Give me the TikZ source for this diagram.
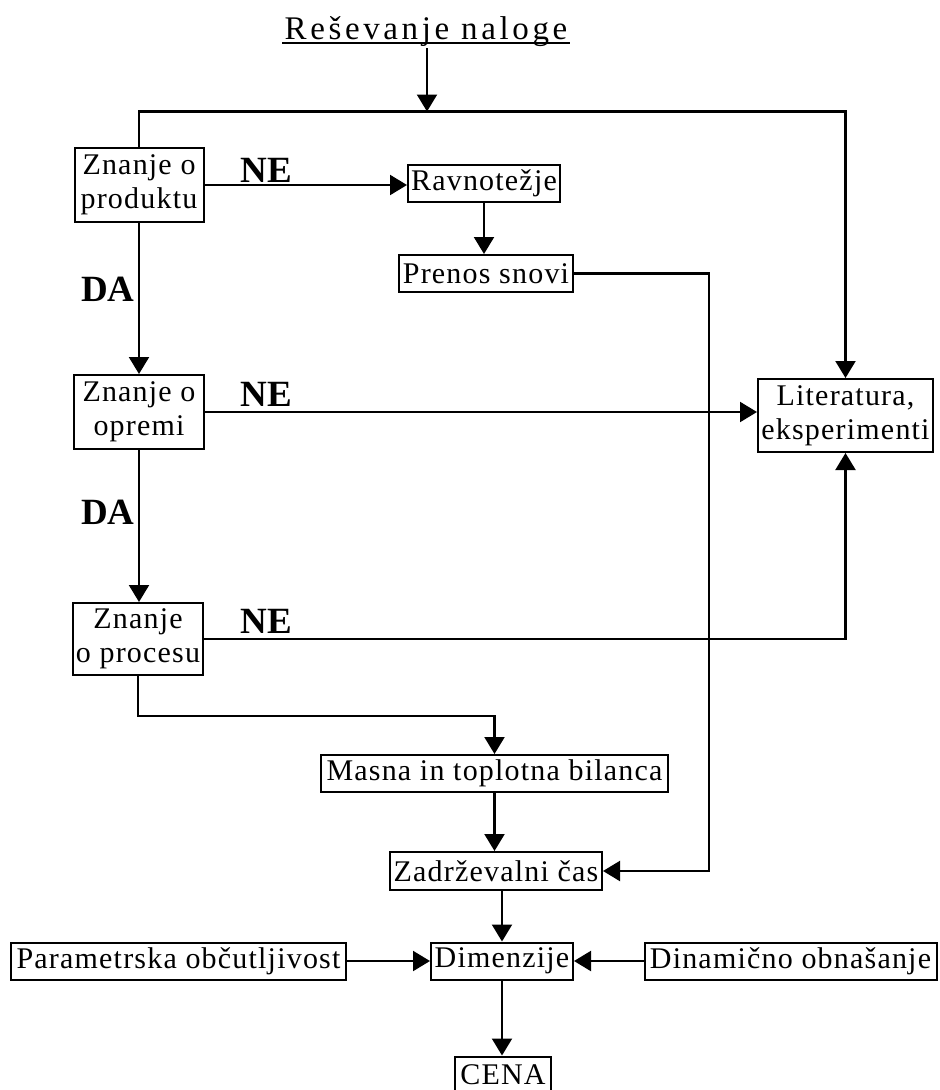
\documentclass[tikz,border=0pt]{standalone}
\usepackage{fontspec}
\setmainfont{Liberation Serif}
\newfontfamily\boxfont{Liberation Serif}[LetterSpace=4]
\newfontfamily\headfont{Liberation Serif}[LetterSpace=11]
\usetikzlibrary{arrows.meta}
\begin{document}
\begin{tikzpicture}[x=1pt,y=-1pt,
  box/.style={draw, line width=2pt, inner sep=0pt, align=center,
    font=\boxfont\fontsize{30}{34}\selectfont, minimum height=37pt},
  lab/.style={inner sep=0pt, font=\bfseries\fontsize{37}{40}\selectfont},
  arr/.style={line width=2.1pt, -{Triangle[length=17pt,width=20pt]}}]
\fill[white] (0,0) rectangle (940,1090);
\useasboundingbox (0,0) rectangle (940,1090);

% heading
\node[anchor=base, inner sep=2pt, font=\headfont\fontsize{33}{36}\selectfont] (title) at (426,39) {Reševanje naloge};
\draw[line width=2pt] ([yshift=-3.5pt]title.base west) -- ([yshift=-3.5pt]title.base east);
\coordinate (top) at (427,111.5);

% boxes
\node[box, minimum width=129pt, minimum height=74pt] (prod) at (139,185) {Znanje o\\produktu};
\node[box, minimum width=152pt] (ravn) at (484,183) {Ravnotežje};
\node[box, minimum width=174pt] (pren) at (486,273.5) {Prenos snovi};
\node[box, minimum width=130pt, minimum height=74pt] (oprem) at (139,412) {Znanje o\\opremi};
\node[box, minimum width=175pt, minimum height=73pt] (lit) at (845.5,415.5) {Literatura,\\eksperimenti};
\node[box, minimum width=130pt, minimum height=72pt] (proc) at (138,639) {Znanje\\o procesu};
\node[box, minimum width=347pt] (masna) at (494.5,773.5) {Masna in toplotna bilanca};
\node[box, minimum width=212pt, minimum height=38pt] (zadr) at (496,871) {Zadrževalni čas};
\node[box, minimum width=142pt] (dim) at (502,961) {Dimenzije};
\node[box, minimum width=335pt] (param) at (178.5,961) {Parametrska občutljivost};
\node[box, minimum width=292pt] (dinam) at (790.5,961) {Dinamično obnašanje};
\node[box, minimum width=96pt, minimum height=36pt] (cena) at (503,1074.5) {CENA};

% decision labels
\node[lab] (ne1) at (266,170.5) {NE};
\node[lab] (ne2) at (266,394) {NE};
\node[lab] (ne3) at (266,621) {NE};
\node[lab] (da1) at (108,289) {DA};
\node[lab] (da2) at (108,512) {DA};

% connectors
\draw[arr] (title.south -| top) -- (top);
\draw[arr] (prod.north) |- (top) -| (lit.north);
\draw[arr] (prod.east) -- (prod.east -| ravn.west);
\draw[arr] (ravn.south) -- (ravn.south |- pren.north);
\draw[arr] (pren.east) -- ++(135,0) |- (zadr.east);
\draw[arr] (prod.south) -- (oprem.north);
\draw[arr] (oprem.east) -- (oprem.east -| lit.west);
\draw[arr] (oprem.south) -- (oprem.south |- proc.north);
\draw[arr] (proc.east) -| (lit.south);
\draw[arr] (proc.south) -- ++(0,40) -| (masna.north);
\draw[arr] (masna.south) -- (masna.south |- zadr.north);
\draw[arr] (dim.north |- zadr.south) -- (dim.north);
\draw[arr] (param.east) -- (dim.west);
\draw[arr] (dinam.west) -- (dim.east);
\draw[arr] (dim.south) -- (dim.south |- cena.north);
\end{tikzpicture}
\end{document}
